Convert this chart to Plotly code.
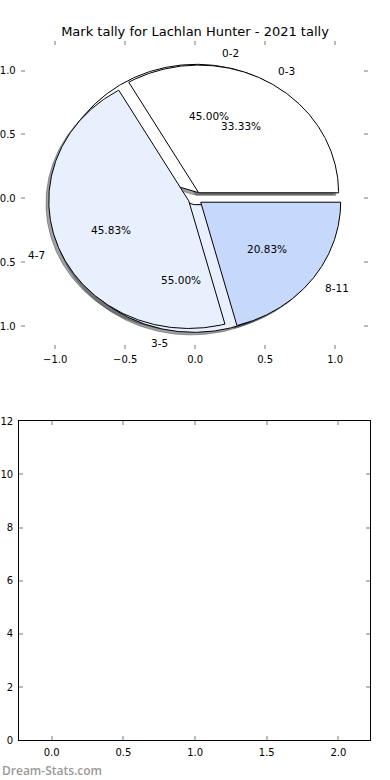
import numpy as np
import plotly.graph_objects as go

# ---- data ----
title_text = "Mark tally for Lachlan Hunter - 2021 tally"
tally_labels = ["0-3", "4-7", "8-11"]
tally_counts = [8, 11, 5]
pair_labels = ["0-2", "3-5"]
pair_counts = [9, 11]
slice_colors = ["#ffffff", "#e9f0fd", "#c6d9fd"]
explode = 0.05
x_ticks_top = [-1.0, -0.5, 0.0, 0.5, 1.0]
y_ticks_top = [-1.0, -0.5, 0.0, 0.5, 1.0]
x_ticks_bottom = [0.0, 0.5, 1.0, 1.5, 2.0]
y_ticks_bottom = [0, 2, 4, 6, 8, 10, 12]

W, H = 390, 780
FONT = "DejaVu Sans"

fig = go.Figure()


def wedges(counts):
    fr = np.asarray(counts, float) / np.sum(counts)
    t2 = np.cumsum(fr) * 360.0
    t1 = np.concatenate([[0.0], t2[:-1]])
    out = []
    for a, b in zip(t1, t2):
        m = np.deg2rad((a + b) / 2)
        cx, cy = explode * np.cos(m), explode * np.sin(m)
        th = np.deg2rad(np.linspace(a, b, 240))
        xs = np.concatenate([[cx], cx + np.cos(th), [cx]])
        ys = np.concatenate([[cy], cy + np.sin(th), [cy]])
        out.append((xs, ys, cx, cy, m, (b - a) / 3.6))
    return out


def rgb(h):
    h = h.lstrip("#")
    return [int(h[i:i + 2], 16) for i in (0, 2, 4)]


pie_pair = wedges(pair_counts)
pie_tally = wedges(tally_counts)

# shadows (below everything)
for pie in (pie_pair, pie_tally):
    for i, (xs, ys, cx, cy, m, pct) in enumerate(pie):
        r, g, b = [int(0.3 * v) for v in rgb(slice_colors[i])]
        col = f"rgba({r},{g},{b},0.5)"
        fig.add_trace(go.Scatter(x=xs - 0.02, y=ys - 0.02, mode="lines", fill="toself",
                                 fillcolor=col, line=dict(color=col, width=1),
                                 hoverinfo="skip", showlegend=False))

# wedges: pair pie first, then tally pie on top
for pie in (pie_pair, pie_tally):
    for i, (xs, ys, cx, cy, m, pct) in enumerate(pie):
        fig.add_trace(go.Scatter(x=xs, y=ys, mode="lines", fill="toself",
                                 fillcolor=slice_colors[i], line=dict(color="black", width=1),
                                 hoverinfo="skip", showlegend=False))

# labels and percentages
for pie, labs in ((pie_pair, pair_labels), (pie_tally, tally_labels)):
    for (xs, ys, cx, cy, m, pct), lab in zip(pie, labs):
        lx, ly = cx + 1.1 * np.cos(m), cy + 1.1 * np.sin(m)
        fig.add_annotation(x=lx, y=ly, xref="x", yref="y", text=lab, showarrow=False,
                           xanchor="left" if lx > 0 else "right", yanchor="middle",
                           font=dict(family=FONT, size=10.5, color="black"))
        px_, py_ = cx + 0.6 * np.cos(m), cy + 0.6 * np.sin(m)
        fig.add_annotation(x=px_, y=py_, xref="x", yref="y", text=f"{pct:.2f}%", showarrow=False,
                           xanchor="center", yanchor="middle",
                           font=dict(family=FONT, size=10.5, color="black"))

# empty bottom axes
fig.add_trace(go.Scatter(x=[None], y=[None], xaxis="x2", yaxis="y2", showlegend=False))

tickfont = dict(family=FONT, size=10, color="black")
common = dict(ticks="inside", ticklen=4, tickcolor="#bbbbbb", tickwidth=1.5, showgrid=False,
              zeroline=False, tickfont=tickfont, tickformat=".1f", mirror="ticks",
              automargin=False)


def px2dom(a, b, total):
    return [a / total, b / total]


fig.update_layout(
    width=W, height=H, margin=dict(l=0, r=0, t=0, b=0, autoexpand=False),
    paper_bgcolor="white", plot_bgcolor="white",
    xaxis=dict(domain=px2dom(20.7, 368, W), range=[-1.247, 1.235], tickvals=x_ticks_top,
               showline=False, anchor="y", ticklabelstandoff=3, **common),
    yaxis=dict(domain=[1 - 349 / H, 1 - 40.5 / H], range=[-1.18, 1.236], tickvals=y_ticks_top,
               showline=False, anchor="x", ticklabelstandoff=4, **common),
    xaxis2=dict(domain=px2dom(19.3, 370, W), range=[-0.226, 2.22], tickvals=x_ticks_bottom,
                showline=True, linecolor="black", linewidth=1.2, anchor="y2",
                ticklabelstandoff=3, **common),
    yaxis2=dict(domain=[1 - 740.3 / H, 1 - 421.3 / H], range=[0, 12], tickvals=y_ticks_bottom,
                showline=True, linecolor="black", linewidth=1.2, anchor="x2",
                ticklabelstandoff=3, **{**common, "tickformat": "d"}),
    title=dict(text=title_text, x=0.5, xanchor="center", y=1 - 31 / H, yanchor="middle",
               font=dict(family=FONT, size=13, color="black")),
)

fig.add_annotation(x=0, y=1 - 770 / H, xref="paper", yref="paper", text="Dream-Stats.com",
                   showarrow=False, xanchor="left", yanchor="middle",
                   font=dict(family="Open Sans", size=12, weight=600, color="#999999"))

fig.write_html("out.html", config={"displayModeBar": False},
               post_script="document.body.style.margin='0px';document.body.style.padding='0px';"
                           "document.body.style.overflow='hidden';")
